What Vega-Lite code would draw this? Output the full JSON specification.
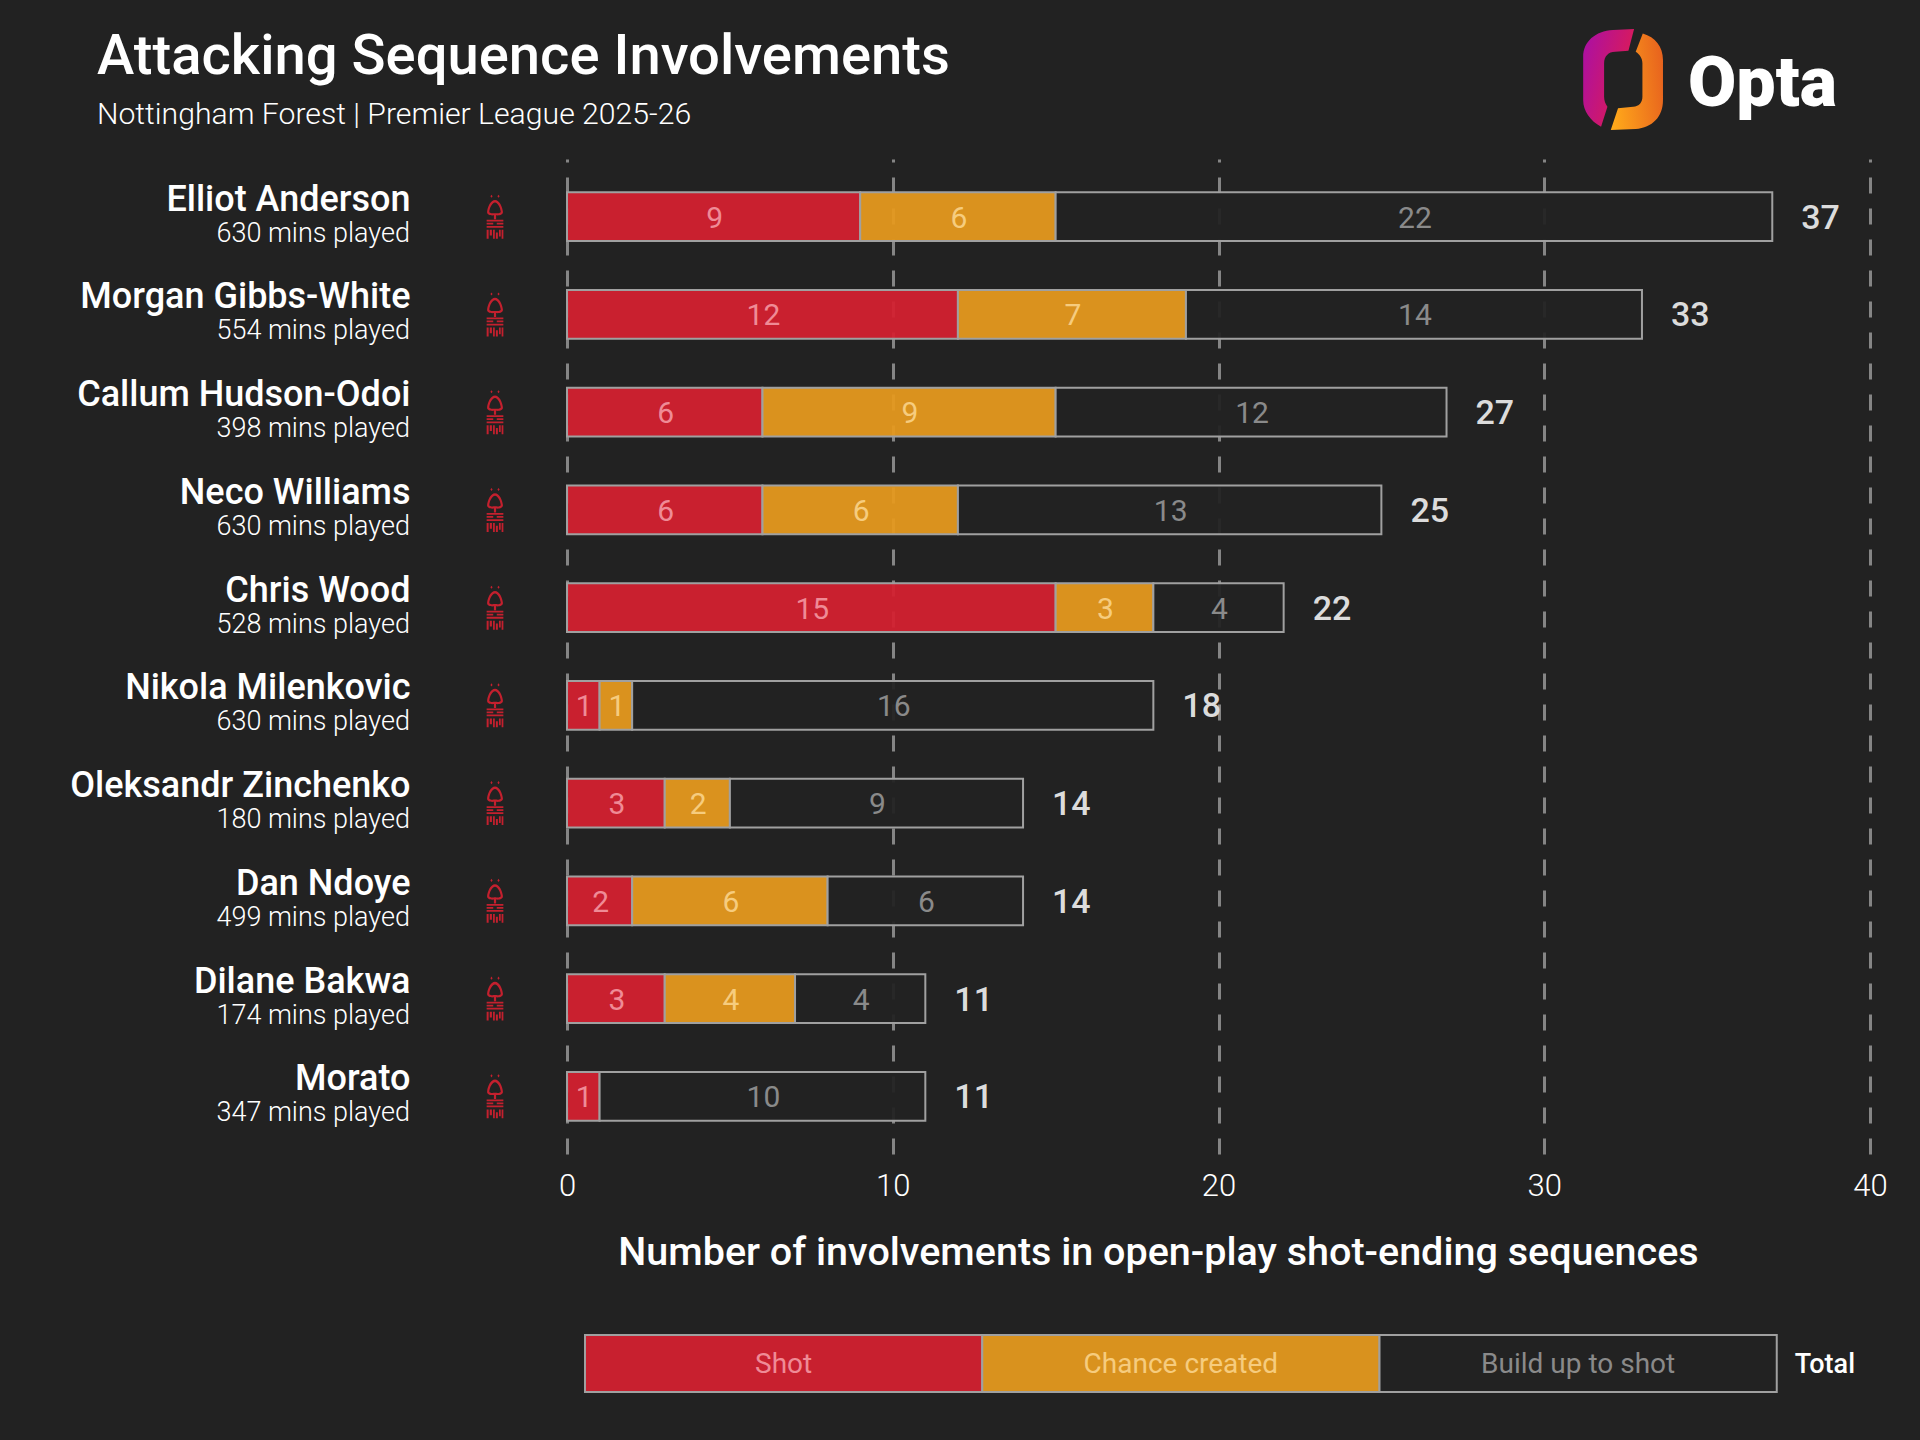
{
"$schema":"https://vega.github.io/schema/vega-lite/v6.json",
"autosize":{"type":"none"},
"padding":{"left":567,"top":159,"right":50,"bottom":286},
"width":1303,"height":995,
"background":"#222222",
"config":{"view":{"stroke":null}},
"title":{"text":"Attacking Sequence Involvements","subtitle":"Nottingham Forest | Premier League 2025-26","anchor":"start","frame":"group","dx":-470,"dy":130,"offset":28,"font":"Roboto","fontSize":56.2,"fontWeight":500,"color":"#ffffff","subtitleFont":"Roboto","subtitleFontSize":30.2,"subtitleFontWeight":300,"subtitleColor":"#ffffff","subtitlePadding":14},
"datasets":{
"players":[
{"player":"Elliot Anderson","minutes":"630 mins played","total":37},
{"player":"Morgan Gibbs-White","minutes":"554 mins played","total":33},
{"player":"Callum Hudson-Odoi","minutes":"398 mins played","total":27},
{"player":"Neco Williams","minutes":"630 mins played","total":25},
{"player":"Chris Wood","minutes":"528 mins played","total":22},
{"player":"Nikola Milenkovic","minutes":"630 mins played","total":18},
{"player":"Oleksandr Zinchenko","minutes":"180 mins played","total":14},
{"player":"Dan Ndoye","minutes":"499 mins played","total":14},
{"player":"Dilane Bakwa","minutes":"174 mins played","total":11},
{"player":"Morato","minutes":"347 mins played","total":11}],
"segments":[
{"player":"Elliot Anderson","type":"Shot","seq":1,"value":9},{"player":"Elliot Anderson","type":"Chance created","seq":2,"value":6},{"player":"Elliot Anderson","type":"Build up to shot","seq":3,"value":22},
{"player":"Morgan Gibbs-White","type":"Shot","seq":1,"value":12},{"player":"Morgan Gibbs-White","type":"Chance created","seq":2,"value":7},{"player":"Morgan Gibbs-White","type":"Build up to shot","seq":3,"value":14},
{"player":"Callum Hudson-Odoi","type":"Shot","seq":1,"value":6},{"player":"Callum Hudson-Odoi","type":"Chance created","seq":2,"value":9},{"player":"Callum Hudson-Odoi","type":"Build up to shot","seq":3,"value":12},
{"player":"Neco Williams","type":"Shot","seq":1,"value":6},{"player":"Neco Williams","type":"Chance created","seq":2,"value":6},{"player":"Neco Williams","type":"Build up to shot","seq":3,"value":13},
{"player":"Chris Wood","type":"Shot","seq":1,"value":15},{"player":"Chris Wood","type":"Chance created","seq":2,"value":3},{"player":"Chris Wood","type":"Build up to shot","seq":3,"value":4},
{"player":"Nikola Milenkovic","type":"Shot","seq":1,"value":1},{"player":"Nikola Milenkovic","type":"Chance created","seq":2,"value":1},{"player":"Nikola Milenkovic","type":"Build up to shot","seq":3,"value":16},
{"player":"Oleksandr Zinchenko","type":"Shot","seq":1,"value":3},{"player":"Oleksandr Zinchenko","type":"Chance created","seq":2,"value":2},{"player":"Oleksandr Zinchenko","type":"Build up to shot","seq":3,"value":9},
{"player":"Dan Ndoye","type":"Shot","seq":1,"value":2},{"player":"Dan Ndoye","type":"Chance created","seq":2,"value":6},{"player":"Dan Ndoye","type":"Build up to shot","seq":3,"value":6},
{"player":"Dilane Bakwa","type":"Shot","seq":1,"value":3},{"player":"Dilane Bakwa","type":"Chance created","seq":2,"value":4},{"player":"Dilane Bakwa","type":"Build up to shot","seq":3,"value":4},
{"player":"Morato","type":"Shot","seq":1,"value":1},{"player":"Morato","type":"Build up to shot","seq":3,"value":10}],
"legendRows":[{"type":"Shot","group":"Legend"},{"type":"Chance created","group":"Legend"},{"type":"Build up to shot","group":"Legend"}]
},
"resolve":{"scale":{"x":"independent","y":"independent","color":"independent","fill":"independent"},"axis":{"x":"independent","y":"independent"}},
"layer":[
{"layer":[
 {"data":{"name":"segments"},
  "mark":{"type":"bar","stroke":"#a0a0a0","strokeWidth":2,"fillOpacity":0.94},
  "encoding":{
   "y":{"field":"player","type":"nominal","title":null,"sort":null,
    "scale":{"type":"band","domain":["Elliot Anderson","Morgan Gibbs-White","Callum Hudson-Odoi","Neco Williams","Chris Wood","Nikola Milenkovic","Oleksandr Zinchenko","Dan Ndoye","Dilane Bakwa","Morato"],"paddingInner":0.5,"paddingOuter":0.34},
    "axis":{"domain":false,"ticks":false,"grid":false,"labelPadding":157,"labelOffset":-17,"labelFont":"Roboto","labelFontSize":36,"labelFontWeight":500,"labelColor":"#ffffff","labelLimit":500}},
   "x":{"field":"value","type":"quantitative","stack":"zero","scale":{"domain":[0,40],"nice":false},
    "axis":{"values":[0,10,20,30,40],"domain":false,"ticks":false,"grid":true,"gridColor":"#858585","gridWidth":3,"gridDash":[16,15],"labelPadding":17,"labelFlush":false,"labelFont":"Roboto","labelFontSize":31,"labelFontWeight":300,"labelColor":"#ffffff","title":"Number of involvements in open-play shot-ending sequences","titleFont":"Roboto","titleFontSize":39.5,"titleFontWeight":500,"titleColor":"#ffffff","titleX":591,"titleY":98,"titleBaseline":"middle","titleAlign":"center"}},
   "color":{"field":"type","type":"nominal","legend":null,"scale":{"domain":["Shot","Chance created","Build up to shot"],"range":["#d32030","#e5991e","#222222"]}},
   "order":{"field":"seq"}}},
 {"data":{"name":"segments"},
  "mark":{"type":"text","font":"Roboto","fontSize":30,"fontWeight":400,"baseline":"middle","dx":1,"dy":2},
  "encoding":{
   "y":{"field":"player","type":"nominal"},
   "x":{"field":"value","type":"quantitative","stack":"zero","bandPosition":0.5},
   "text":{"field":"value","type":"quantitative"},
   "fill":{"field":"type","type":"nominal","legend":null,"scale":{"domain":["Shot","Chance created","Build up to shot"],"range":["#ef8b96","#f6cc7e","#8a8a8a"]}},
   "order":{"field":"seq"}}},
 {"data":{"name":"players"},
  "mark":{"type":"text","font":"Roboto","fontSize":34,"fontWeight":500,"align":"left","baseline":"middle","dx":29,"dy":2,"color":"#dcdcdc"},
  "encoding":{"y":{"field":"player","type":"nominal"},"x":{"field":"total","type":"quantitative"},"text":{"field":"total","type":"quantitative"}}},
 {"data":{"name":"players"},
  "mark":{"type":"text","font":"Roboto","fontSize":27,"fontWeight":300,"align":"right","baseline":"middle","dx":-157,"dy":17,"color":"#ffffff"},
  "encoding":{"y":{"field":"player","type":"nominal"},"x":{"datum":0,"type":"quantitative"},"text":{"field":"minutes","type":"nominal"}}},
 {"data":{"name":"players"},
  "mark":{"type":"point","filled":true,"opacity":1,"size":1936,"color":"#c4202e","strokeWidth":0,
   "shape":"M-0.16 -1 L-0.11 -0.93 L-0.16 -0.86 L-0.21 -0.93 Z M0.16 -1 L0.21 -0.93 L0.16 -0.86 L0.11 -0.93 Z M0 -0.76 C0.2 -0.76 0.34 -0.45 0.36 -0.22 C0.37 -0.08 0.2 -0.04 0.05 -0.06 L0.05 0.12 L-0.05 0.12 L-0.05 -0.06 C-0.2 -0.04 -0.37 -0.08 -0.36 -0.22 C-0.34 -0.45 -0.2 -0.76 0 -0.76 Z M0 -0.64 C-0.13 -0.64 -0.24 -0.4 -0.26 -0.22 C-0.26 -0.16 -0.15 -0.14 -0.02 -0.16 L0.02 -0.16 C0.15 -0.14 0.26 -0.16 0.26 -0.22 C0.24 -0.4 0.13 -0.64 0 -0.64 Z M-0.38 0.14 L0.38 0.14 L0.38 0.22 L-0.38 0.22 Z M-0.38 0.28 L-0.08 0.28 L-0.08 0.36 L-0.38 0.36 Z M0.08 0.28 L0.38 0.28 L0.38 0.36 L0.08 0.36 Z M-0.38 0.42 L0.38 0.42 L0.38 0.5 L-0.38 0.5 Z M-0.38 0.6 L-0.29 0.6 L-0.29 1 L-0.38 1 Z M-0.24 0.6 L-0.14 0.6 L-0.14 0.86 L-0.24 0.86 Z M-0.09 0.6 L-0.01 0.6 L-0.01 1 L-0.09 1 Z M0.04 0.72 L0.13 0.72 L0.13 1 L0.04 1 Z M0.18 0.6 L0.26 0.6 L0.26 0.9 L0.18 0.9 Z M0.3 0.6 L0.38 0.6 L0.38 1 L0.3 1 Z"},
  "encoding":{"y":{"field":"player","type":"nominal"},"x":{"datum":-2.21,"type":"quantitative"}}}
]},
{"data":{"name":"legendRows"},
 "encoding":{
  "x":{"field":"type","type":"nominal","axis":null,"scale":{"type":"band","domain":["Shot","Chance created","Build up to shot","Total"],"range":[18,1607],"paddingInner":0,"paddingOuter":0}},
  "y":{"field":"group","type":"nominal","axis":null,"scale":{"type":"band","domain":["Legend"],"range":[1176,1233],"paddingInner":0,"paddingOuter":0}}},
 "layer":[
  {"mark":{"type":"bar","stroke":"#a0a0a0","strokeWidth":2},
   "encoding":{"color":{"field":"type","type":"nominal","legend":null,"scale":{"domain":["Shot","Chance created","Build up to shot"],"range":["#c8202f","#d9921e","#222222"]}}}},
  {"mark":{"type":"text","font":"Roboto","fontSize":28,"fontWeight":400,"baseline":"middle","dy":1},
   "encoding":{"text":{"field":"type","type":"nominal"},"fill":{"field":"type","type":"nominal","legend":null,"scale":{"domain":["Shot","Chance created","Build up to shot"],"range":["#ef8b96","#f6cc7e","#8a8a8a"]}}}},
  {"data":{"values":[{"type":"Total","group":"Legend"}]},
   "mark":{"type":"text","font":"Roboto","fontSize":27,"fontWeight":500,"baseline":"middle","align":"left","dx":-180.7,"dy":1,"color":"#ffffff"},
   "encoding":{"text":{"field":"type","type":"nominal"}}}
 ]},
{"data":{"values":[{"brand":"Opta"}]},
 "encoding":{
  "x":{"datum":32.42,"type":"quantitative","axis":null,"scale":{"domain":[0,40],"nice":false}},
  "y":{"datum":-0.813,"type":"quantitative","axis":null,"scale":{"domain":[0,10.18],"range":[0,995],"nice":false,"zero":false}}},
 "layer":[
  {"mark":{"type":"point","filled":true,"opacity":1,"size":10201,"strokeWidth":0,
    "fill":{"gradient":"linear","x1":0,"y1":0,"x2":1,"y2":0.5,"stops":[{"offset":0,"color":"#a80fa8"},{"offset":1,"color":"#e01c50"}]},
    "shape":"M0.218 -1 L-0.2 -0.98 C-0.55 -0.96 -0.79 -0.75 -0.79 -0.45 L-0.79 0.41 C-0.79 0.62 -0.65 0.82 -0.436 0.934 L-0.31 0.54 C-0.35 0.48 -0.376 0.42 -0.376 0.34 L-0.376 -0.32 C-0.376 -0.46 -0.29 -0.55 -0.158 -0.55 L0.106 -0.571 Z"}},
  {"mark":{"type":"point","filled":true,"opacity":1,"size":10201,"strokeWidth":0,
    "fill":{"gradient":"linear","x1":0,"y1":0.6,"x2":1,"y2":0.4,"stops":[{"offset":0,"color":"#ffa81a"},{"offset":1,"color":"#e8641e"}]},
    "shape":"M0.39 -0.914 C0.64 -0.84 0.79 -0.65 0.79 -0.39 L0.79 0.41 C0.79 0.74 0.58 0.95 0.25 0.98 L-0.244 1 L-0.1 0.571 L0.2 0.54 C0.32 0.53 0.383 0.45 0.383 0.34 L0.383 -0.32 C0.383 -0.42 0.33 -0.5 0.25 -0.551 Z"}},
  {"mark":{"type":"text","font":"Roboto","fontSize":70,"fontWeight":900,"baseline":"middle","dy":5,"color":"#ffffff"},
   "encoding":{"x":{"datum":36.7,"type":"quantitative"},"text":{"field":"brand","type":"nominal"}}}
 ]}
]
}
